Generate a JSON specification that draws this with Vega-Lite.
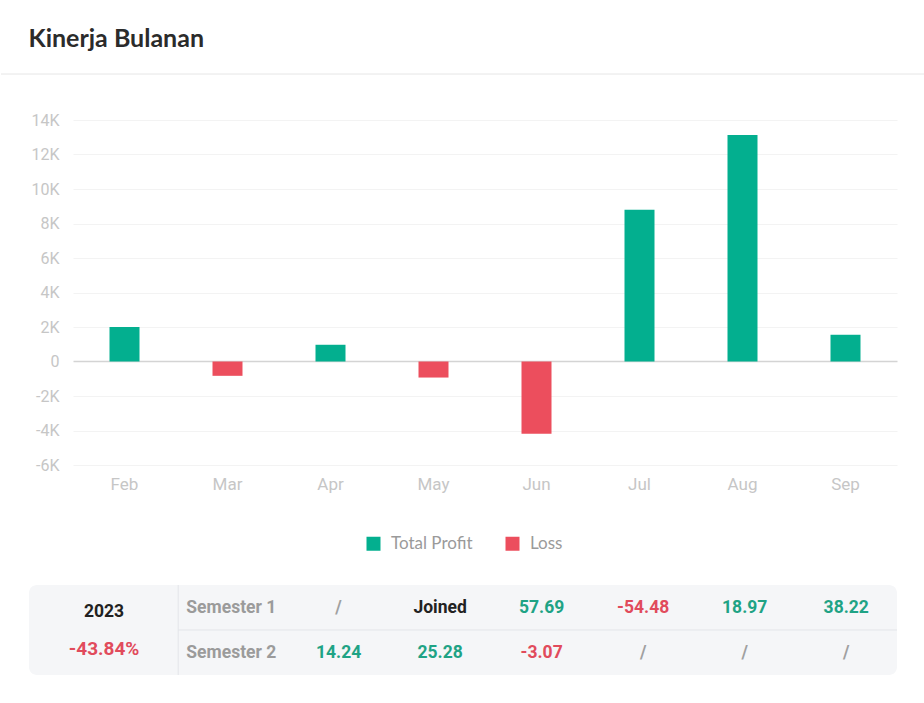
{
  "$schema": "https://vega.github.io/schema/vega-lite/v6.json",
  "background": "white",
  "padding": {"left": 0, "right": 0, "top": 26, "bottom": 0},
  "title": {
    "text": "Kinerja Bulanan",
    "anchor": "start",
    "dx": 28,
    "font": "Lato",
    "fontSize": 25,
    "fontWeight": "bold",
    "color": "#2b2b2b",
    "baseline": "bottom",
    "offset": -3
  },
  "spacing": 32,
  "resolve": {
    "scale": {"x": "independent", "y": "independent", "color": "independent"},
    "axis": {"x": "independent", "y": "independent"},
    "legend": {"color": "independent"}
  },
  "vconcat": [
    {
      "width": 852,
      "height": 6,
      "data": {"values": [{}]},
      "mark": {"type": "rule", "color": "#e6e6e6", "strokeWidth": 1},
      "encoding": {
        "x": {"datum": -0.0845, "type": "quantitative", "scale": {"domain": [0, 1], "nice": false, "zero": false}, "axis": null},
        "x2": {"datum": 1},
        "y": {"datum": 1, "type": "quantitative", "scale": {"domain": [0, 1], "nice": false}, "axis": null}
      }
    },
    {
      "width": 824,
      "height": 345,
      "data": {
        "values": [
          {"month": "Feb", "value": 2000, "type": "Total Profit"},
          {"month": "Mar", "value": -830, "type": "Loss"},
          {"month": "Apr", "value": 970, "type": "Total Profit"},
          {"month": "May", "value": -930, "type": "Loss"},
          {"month": "Jun", "value": -4190, "type": "Loss"},
          {"month": "Jul", "value": 8790, "type": "Total Profit"},
          {"month": "Aug", "value": 13130, "type": "Total Profit"},
          {"month": "Sep", "value": 1550, "type": "Total Profit"}
        ]
      },
      "mark": {"type": "bar", "width": 30},
      "encoding": {
        "x": {
          "field": "month",
          "type": "ordinal",
          "sort": null,
          "scale": {"paddingInner": 0, "paddingOuter": 0},
          "axis": {
            "title": null,
            "labelAngle": 0,
            "ticks": false,
            "tickSize": 0,
            "domain": false,
            "grid": false,
            "labelPadding": 11,
            "labelFont": "Roboto",
            "labelFontSize": 17,
            "labelColor": "#c6c6c6"
          }
        },
        "y": {
          "field": "value",
          "type": "quantitative",
          "scale": {"domain": [-6000, 14000], "nice": false},
          "axis": {
            "title": null,
            "values": [-6000, -4000, -2000, 0, 2000, 4000, 6000, 8000, 10000, 12000, 14000],
            "labelExpr": "datum.value === 0 ? '0' : (datum.value / 1000) + 'K'",
            "labelOverlap": false,
            "ticks": false,
            "tickSize": 0,
            "domain": false,
            "grid": true,
            "gridColor": {"condition": {"test": "datum.value === 0", "value": "#d4d4d4"}, "value": "#f3f3f3"},
            "gridWidth": {"condition": {"test": "datum.value === 0", "value": 1.5}, "value": 1},
            "labelPadding": 14,
            "labelFont": "Roboto",
            "labelFontSize": 16,
            "labelColor": "#c6c6c6",
            "minExtent": 72,
            "maxExtent": 72
          }
        },
        "color": {
          "field": "type",
          "type": "nominal",
          "scale": {"domain": ["Total Profit", "Loss"], "range": ["#03af8f", "#ec4e5d"]},
          "legend": {
            "orient": "none",
            "legendX": 292,
            "legendY": 415,
            "direction": "horizontal",
            "title": null,
            "padding": 0,
            "symbolType": "square",
            "symbolSize": 196,
            "symbolStrokeWidth": 0,
            "symbolOpacity": 1,
            "labelFont": "Lato",
            "labelFontSize": 17,
            "labelColor": "#9a9a9a",
            "labelOffset": 9,
            "columnPadding": 31
          }
        }
      }
    },
    {
      "width": 824,
      "height": 90,
      "layer": [
        {
          "data": {"values": [{}]},
          "mark": {"type": "rect", "color": "#f5f6f8", "cornerRadius": 8},
          "encoding": {
            "x": {"datum": -2.05, "type": "quantitative", "scale": {"domain": [-1.616, 6.5], "nice": false, "zero": false}, "axis": null},
            "x2": {"datum": 6.5},
            "y": {"datum": 0.48, "type": "quantitative", "scale": {"domain": [0.48, 2.48], "nice": false, "zero": false, "reverse": true}, "axis": null},
            "y2": {"datum": 2.48}
          }
        },
        {
          "data": {"values": [{}]},
          "mark": {"type": "rule", "color": "#e3e5e9", "strokeWidth": 1},
          "encoding": {
            "x": {"datum": -0.58, "type": "quantitative", "axis": null},
            "y": {"datum": 0.48, "type": "quantitative", "axis": null},
            "y2": {"datum": 2.48}
          }
        },
        {
          "data": {"values": [{}]},
          "mark": {"type": "rule", "color": "#e3e5e9", "strokeWidth": 1},
          "encoding": {
            "x": {"datum": -0.58, "type": "quantitative", "axis": null},
            "x2": {"datum": 6.5},
            "y": {"datum": 1.48, "type": "quantitative", "axis": null}
          }
        },
        {
          "data": {"values": [{"year": "2023", "change": "-43.84%"}]},
          "mark": {"type": "text", "font": "Roboto", "fontWeight": "bold", "fontSize": 17.5, "color": "#222222", "align": "center", "baseline": "middle"},
          "encoding": {
            "x": {"datum": -1.31, "type": "quantitative", "axis": null},
            "y": {"datum": 1.09, "type": "quantitative", "axis": null},
            "text": {"field": "year"}
          }
        },
        {
          "data": {"values": [{"year": "2023", "change": "-43.84%"}]},
          "mark": {"type": "text", "font": "Roboto", "fontWeight": "bold", "fontSize": 19, "color": "#e14b5c", "align": "center", "baseline": "middle"},
          "encoding": {
            "x": {"datum": -1.31, "type": "quantitative", "axis": null},
            "y": {"datum": 1.9, "type": "quantitative", "axis": null},
            "text": {"field": "change"}
          }
        },
        {
          "data": {
            "values": [
              {"row": 1, "semester": "Semester 1"},
              {"row": 2, "semester": "Semester 2"}
            ]
          },
          "mark": {"type": "text", "font": "Roboto", "fontWeight": "bold", "fontSize": 17.5, "color": "#9b9b9b", "align": "left", "baseline": "middle"},
          "encoding": {
            "x": {"datum": -0.5, "type": "quantitative", "axis": null},
            "y": {"field": "row", "type": "quantitative", "axis": null},
            "text": {"field": "semester"}
          }
        },
        {
          "data": {
            "values": [
              {"row": 1, "pos": 1, "label": "/", "status": "none"},
              {"row": 1, "pos": 2, "label": "Joined", "status": "joined"},
              {"row": 1, "pos": 3, "label": "57.69", "status": "gain"},
              {"row": 1, "pos": 4, "label": "-54.48", "status": "loss"},
              {"row": 1, "pos": 5, "label": "18.97", "status": "gain"},
              {"row": 1, "pos": 6, "label": "38.22", "status": "gain"},
              {"row": 2, "pos": 1, "label": "14.24", "status": "gain"},
              {"row": 2, "pos": 2, "label": "25.28", "status": "gain"},
              {"row": 2, "pos": 3, "label": "-3.07", "status": "loss"},
              {"row": 2, "pos": 4, "label": "/", "status": "none"},
              {"row": 2, "pos": 5, "label": "/", "status": "none"},
              {"row": 2, "pos": 6, "label": "/", "status": "none"}
            ]
          },
          "mark": {"type": "text", "font": "Roboto", "fontWeight": "bold", "fontSize": 17.5, "align": "center", "baseline": "middle"},
          "encoding": {
            "x": {"field": "pos", "type": "quantitative", "axis": null},
            "y": {"field": "row", "type": "quantitative", "axis": null},
            "text": {"field": "label"},
            "color": {
              "field": "status",
              "type": "nominal",
              "scale": {"domain": ["gain", "loss", "none", "joined"], "range": ["#1fa385", "#e14b5c", "#a0a0a0", "#222222"]},
              "legend": null
            }
          }
        }
      ]
    }
  ],
  "config": {
    "view": {"stroke": null}
  }
}
